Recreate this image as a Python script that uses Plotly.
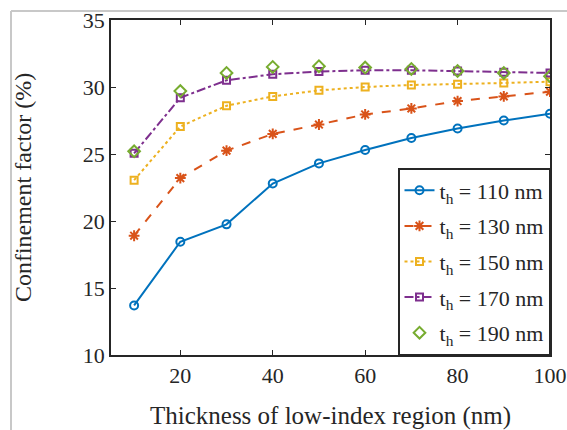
import plotly.graph_objects as go

x = [10, 20, 30, 40, 50, 60, 70, 80, 90, 100]
t110 = [13.7, 18.45, 19.75, 22.8, 24.3, 25.3, 26.2, 26.9, 27.5, 28.0]
t130 = [18.9, 23.2, 25.25, 26.5, 27.2, 27.95, 28.4, 28.95, 29.3, 29.65]
t150 = [23.05, 27.05, 28.6, 29.3, 29.75, 30.0, 30.15, 30.2, 30.3, 30.4]
t170 = [25.05, 29.2, 30.5, 30.95, 31.15, 31.25, 31.25, 31.2, 31.1, 31.05]
t190 = [25.2, 29.7, 31.05, 31.5, 31.55, 31.45, 31.35, 31.2, 31.05, 30.8]
labels = ["t<sub>h</sub> = 110 nm", "t<sub>h</sub> = 130 nm", "t<sub>h</sub> = 150 nm",
          "t<sub>h</sub> = 170 nm", "t<sub>h</sub> = 190 nm"]

W, H = 567, 430
L, R, T, B = 111, 17, 20, 75
pw, ph = W - L - R, H - T - B

fig = go.Figure()
specs = [
    (t110, "#0072BD", "solid", "circle-open", 8, "lines+markers"),
    (t130, "#D95319", "dash", "asterisk-open", 9, "lines+markers"),
    (t150, "#EDB120", "dot", "square-open", 7, "lines+markers"),
    (t170, "#7E2F8E", "dashdot", "square-open", 7, "lines+markers"),
    (t190, "#77AC30", "solid", "diamond-open", 9, "markers"),
]
for i, ((ys, c, d, sym, sz, mode), name) in enumerate(zip(specs, labels)):
    fig.add_trace(go.Scatter(
        x=x, y=ys, name=name, mode=mode, legendgroup=f"g{i}",
        line=dict(color=c, width=2, dash=d),
        marker=dict(symbol=sym, size=sz, color=c, line=dict(color=c, width=2)),
    ))

font = "Liberation Serif, Times New Roman, serif"
axcol = "#262626"
fig.update_xaxes(range=[5, 100], tickvals=[20, 40, 60, 80, 100], ticks="inside", ticklen=5,
                 tickcolor=axcol, showline=True, linecolor=axcol, linewidth=1.5, mirror="ticks",
                 showgrid=False, zeroline=False, automargin=False,
                 tickfont=dict(family=font, size=22, color="#262626"),
                 title=dict(text="Thickness of low-index region (nm)",
                            font=dict(family=font, size=25, color="#262626"), standoff=23))
fig.update_yaxes(range=[10, 35], tickvals=[10, 15, 20, 25, 30, 35], ticks="inside", ticklen=5,
                 tickcolor=axcol, showline=True, linecolor=axcol, linewidth=1.5, mirror="ticks",
                 showgrid=False, zeroline=False, automargin=False,
                 tickfont=dict(family=font, size=22, color="#262626"),
                 title=dict(text="Confinement factor (%)",
                            font=dict(family=font, size=24, color="#262626"), standoff=44))

gx = (11 - L) / pw
gy = 1 + (T - 11) / ph
fig.add_shape(type="line", xref="paper", yref="paper", x0=gx, x1=gx, y0=-(B) / ph, y1=gy,
              line=dict(color="#c8c8c8", width=2))
fig.add_shape(type="line", xref="paper", yref="paper", x0=gx, x1=(W - L) / pw, y0=gy, y1=gy,
              line=dict(color="#c8c8c8", width=2))

fig.update_layout(
    width=W, height=H, margin=dict(l=L, r=R, t=T, b=B, autoexpand=False),
    paper_bgcolor="white", plot_bgcolor="white",
    legend=dict(x=1, y=0, xanchor="right", yanchor="bottom",
                bgcolor="white", bordercolor=axcol, borderwidth=1.5,
                font=dict(family=font, size=22, color="#262626"),
                tracegroupgap=4, itemwidth=30),
)
fig.write_html("out.html")
